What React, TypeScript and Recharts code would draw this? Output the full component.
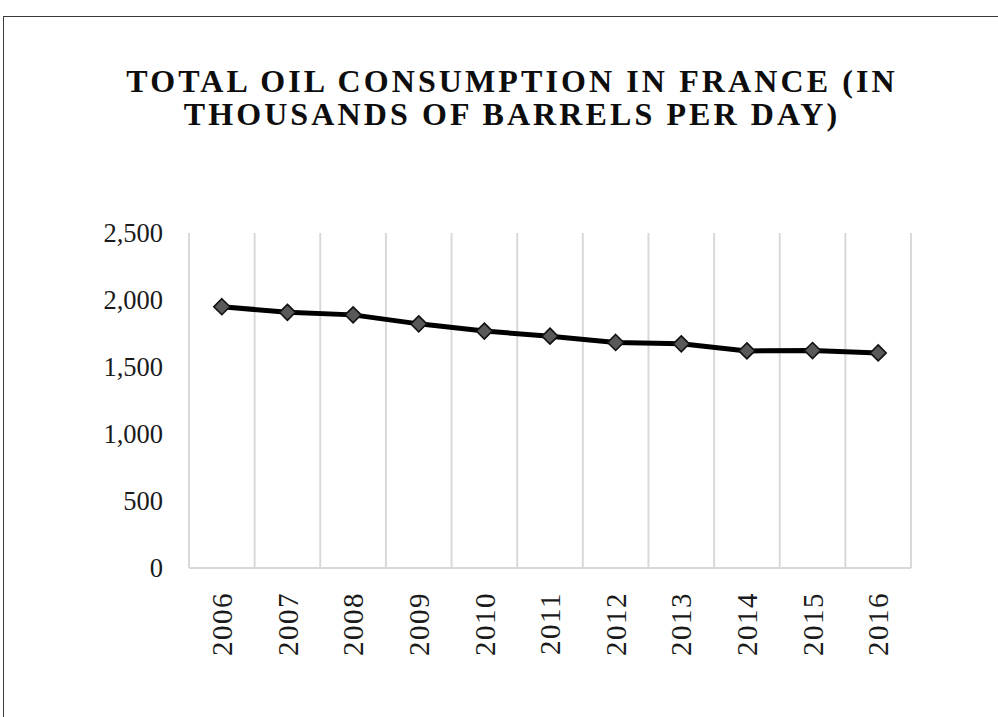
import React from "react";
import { LineChart, Line, XAxis, YAxis, CartesianGrid } from "recharts";

const years = ["2006", "2007", "2008", "2009", "2010", "2011", "2012", "2013", "2014", "2015", "2016"];
const consumption = [1950, 1908, 1889, 1822, 1768, 1730, 1683, 1673, 1620, 1623, 1605];
const yTicks = [0, 500, 1000, 1500, 2000, 2500];
const titleLines = ["TOTAL OIL CONSUMPTION IN FRANCE (IN", "THOUSANDS OF BARRELS PER DAY)"];

const serif = '"Liberation Serif", "Times New Roman", serif';

const data = years.map((year, i) => ({ year, value: consumption[i] }));

const Diamond = (props: any) => {
  const { cx, cy } = props;
  if (cx == null || cy == null) return null;
  const r = 8;
  return (
    <polygon
      points={`${cx},${cy - r} ${cx + r},${cy} ${cx},${cy + r} ${cx - r},${cy}`}
      fill="#595959"
      stroke="#111"
      strokeWidth={1.6}
    />
  );
};

const YearTick = (props: any) => {
  const { x, y, payload } = props;
  return (
    <text
      x={x}
      y={y}
      transform={`rotate(-90, ${x}, ${y})`}
      textAnchor="end"
      dy="0.35em"
      fontFamily={serif}
      fontSize={29}
      letterSpacing={1.5}
      fill="#1a1a1a"
    >
      {payload.value}
    </text>
  );
};

// grid lines sit between the categories, not on them
const bandEdges = ({ offset }: any) => {
  const n = years.length;
  return Array.from({ length: n + 1 }, (_, i) => offset.left + (i * offset.width) / n);
};

export default function App() {
  return (
    <div
      style={{
        position: "absolute",
        left: 0,
        top: 0,
        width: 998,
        height: 717,
        overflow: "hidden",
        background: "#fff",
      }}
    >
      <div
        style={{
          position: "absolute",
          left: 3,
          top: 16,
          width: 1100,
          height: 800,
          borderLeft: "1.5px solid #3a3a3a",
          borderTop: "1.5px solid #3a3a3a",
        }}
      />
      <svg width={998} height={140} style={{ position: "absolute", left: 0, top: 0 }}>
        {titleLines.map((line, i) => (
          <text
            key={line}
            x={512}
            y={92 + i * 33}
            textAnchor="middle"
            fontFamily={serif}
            fontWeight="bold"
            fontSize={32}
            letterSpacing={3.1}
            fill="#0d0d0d"
          >
            {line}
          </text>
        ))}
      </svg>
      <div style={{ position: "absolute", left: 0, top: 0 }}>
        <LineChart
          width={998}
          height={717}
          data={data}
          margin={{ top: 233, right: 87, bottom: 0, left: 0 }}
        >
          <CartesianGrid
            horizontal={false}
            stroke="#d9d9d9"
            strokeWidth={2}
            verticalCoordinatesGenerator={bandEdges}
          />
          <XAxis
            dataKey="year"
            scale="band"
            height={149}
            interval={0}
            tickLine={false}
            axisLine={{ stroke: "#d9d9d9", strokeWidth: 2 }}
            tick={<YearTick />}
            tickMargin={18}
          />
          <YAxis
            width={189}
            domain={[0, 2500]}
            ticks={yTicks}
            tickLine={false}
            axisLine={false}
            tickSize={0}
            tickMargin={26}
            tickFormatter={(v: number) => v.toLocaleString("en-US")}
            tick={{ fontFamily: serif, fontSize: 26.5, fill: "#1a1a1a" }}
          />
          <Line
            dataKey="value"
            stroke="#000"
            strokeWidth={5}
            dot={<Diamond />}
            activeDot={false}
            isAnimationActive={false}
          />
        </LineChart>
      </div>
    </div>
  );
}
